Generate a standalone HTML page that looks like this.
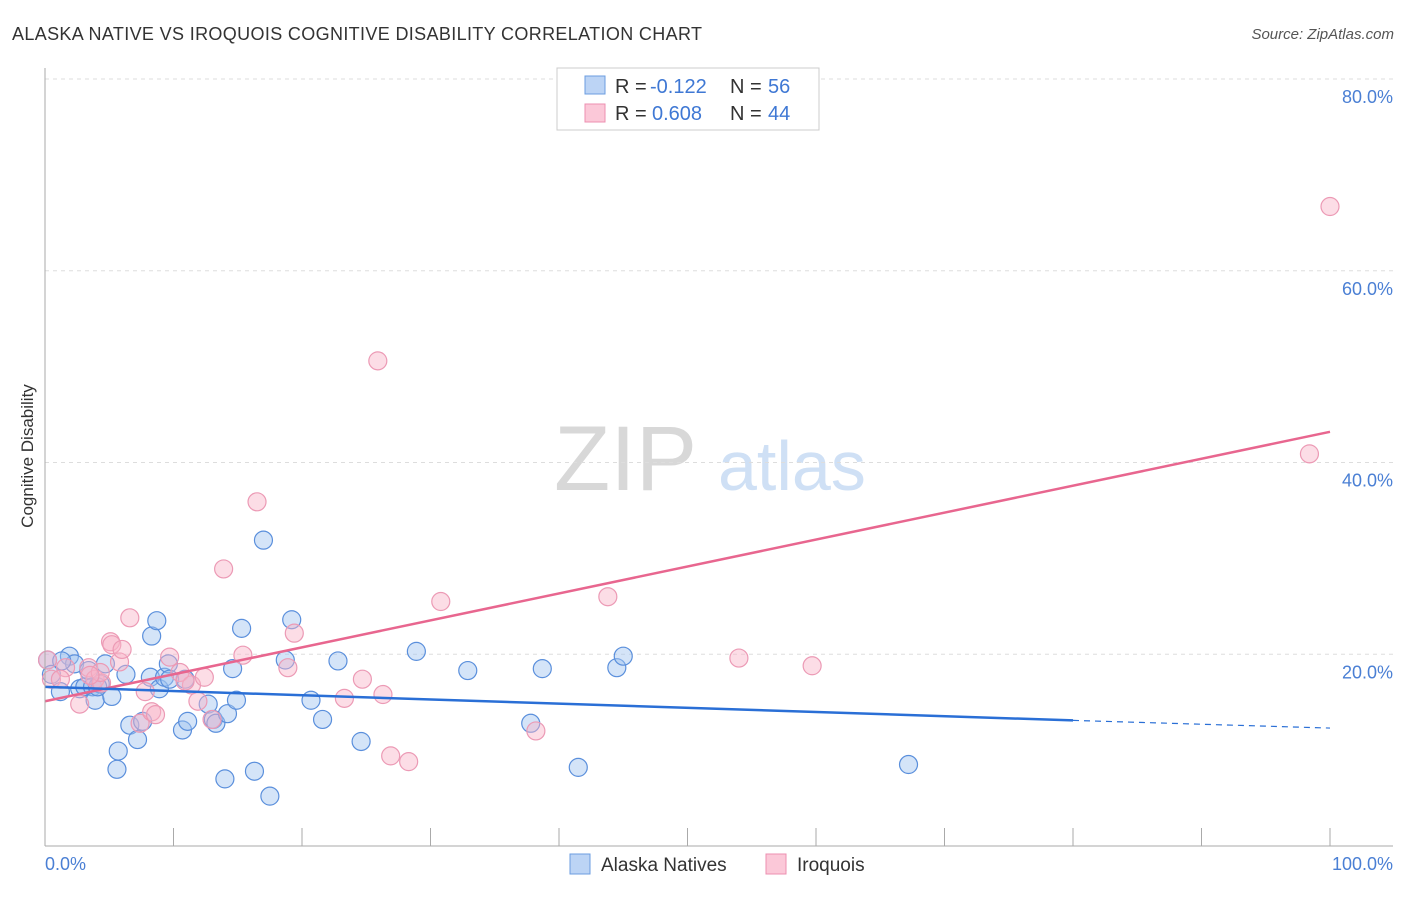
<!DOCTYPE html>
<html><head><meta charset="utf-8"><style>
body{margin:0;background:#fff;font-family:"Liberation Sans",sans-serif}
svg text{font-family:"Liberation Sans",sans-serif}
</style></head><body>
<svg id="c" width="1406" height="892" xmlns="http://www.w3.org/2000/svg">
<text x="12" y="40" font-size="18" fill="#333" textLength="690">ALASKA NATIVE VS IROQUOIS COGNITIVE DISABILITY CORRELATION CHART</text>
<text x="1394" y="39" font-size="15" fill="#555" text-anchor="end" font-style="italic">Source: ZipAtlas.com</text>
<text x="33" y="456" font-size="17" fill="#333" text-anchor="middle" transform="rotate(-90 33 456)">Cognitive Disability</text>
<text x="554" y="490" font-size="92" fill="#d8d8d8" font-family="Liberation Serif">ZIP</text>
<text x="718" y="490" font-size="70" fill="#cfe0f5">atlas</text>
<g id="grid"></g><g id="pts"></g><g id="lines"></g>
<line x1="45" y1="68" x2="45" y2="846" stroke="#aaa"/>
<line x1="45" y1="846" x2="1393" y2="846" stroke="#aaa"/>
<text x="45" y="870" font-size="18" fill="#4a7fd4">0.0%</text>
<text x="1393" y="870" font-size="18" fill="#4a7fd4" text-anchor="end">100.0%</text>
<g>
<rect x="557" y="68" width="262" height="62" fill="#fff" stroke="#ccc"/>
<rect x="585" y="76" width="20" height="18" fill="#bcd4f5" stroke="#6b9de0"/>
<rect x="585" y="104" width="20" height="18" fill="#fbc8d8" stroke="#ec8fb0"/>
<text x="615" y="93" font-size="20" fill="#333">R =</text>
<text x="650" y="93" font-size="20" fill="#3f78d4">-0.122</text>
<text x="730" y="93" font-size="20" fill="#333">N =</text>
<text x="768" y="93" font-size="20" fill="#3f78d4">56</text>
<text x="615" y="120" font-size="20" fill="#333">R =</text>
<text x="652" y="120" font-size="20" fill="#3f78d4">0.608</text>
<text x="730" y="120" font-size="20" fill="#333">N =</text>
<text x="768" y="120" font-size="20" fill="#3f78d4">44</text>
</g>
<g>
<rect x="570" y="854" width="20" height="20" fill="#bcd4f5" stroke="#6b9de0"/>
<text x="601" y="871" font-size="19" fill="#333">Alaska Natives</text>
<rect x="766" y="854" width="20" height="20" fill="#fbc8d8" stroke="#ec8fb0"/>
<text x="797" y="871" font-size="19" fill="#333">Iroquois</text>
</g>
</svg>
<script>
const yTicks=[20,40,60,80];
const blueX=[0.2,0.5,1.2,1.9,2.3,2.7,3.1,3.4,3.7,3.9,4.3,4.7,5.2,5.7,5.6,6.3,6.6,7.2,7.6,8.2,8.3,8.7,8.9,9.3,9.6,10.7,11.1,10.9,12.7,13.1,13.3,14.2,14.6,14.9,15.3,14.0,16.3,17.0,17.5,18.7,19.2,20.7,21.6,22.8,24.6,28.9,32.9,37.8,38.7,41.5,44.5,45.0,67.2,1.3,4.1,9.7];
const blueY=[19.4,17.9,16.1,19.8,19.0,16.4,16.6,18.3,16.6,15.2,16.9,19.0,15.6,9.9,8.0,17.9,12.6,11.1,13.0,17.6,21.9,23.5,16.4,17.6,19.0,12.1,13.0,17.4,14.8,13.2,12.8,13.8,18.5,15.2,22.7,7.0,7.8,31.9,5.2,19.4,23.6,15.2,13.2,19.3,10.9,20.3,18.3,12.8,18.5,8.2,18.6,19.8,8.5,19.3,16.6,17.4];
const pinkX=[0.2,0.5,1.6,2.7,3.4,3.9,4.4,5.1,5.2,5.8,6.0,6.6,7.4,7.8,8.3,8.6,9.7,10.5,11.4,11.9,12.4,13.0,13.9,15.4,16.5,18.9,19.4,23.3,24.7,25.9,26.3,26.9,28.3,30.8,38.2,43.8,54.0,59.7,98.4,100.0,1.2,4.3,3.5,10.9];
const pinkY=[19.4,17.4,18.6,14.8,18.6,17.4,17.0,21.3,21.0,19.2,20.5,23.8,12.8,16.1,14.0,13.7,19.7,18.1,16.8,15.1,17.6,13.2,28.9,19.9,35.9,18.6,22.2,15.4,17.4,50.6,15.8,9.4,8.8,25.5,12.0,26.0,19.6,18.8,40.9,66.7,17.4,18.1,17.8,17.2];
const blueLine=[[0,16.6],[80,13.1]], blueDash=[[80,13.1],[100,12.3]];
const pinkLine=[[0,15.1],[100,43.2]];
const NS='http://www.w3.org/2000/svg';
const sx=v=>45+v*12.85, sy=v=>846-v*9.5875;
function mk(t,a,p){const e=document.createElementNS(NS,t);for(const k in a)e.setAttribute(k,a[k]);p.appendChild(e);return e;}
const grid=document.getElementById('grid');
yTicks.forEach(t=>{
 const l=mk('line',{x1:45,x2:1393,y1:sy(t),y2:sy(t),stroke:'#ddd','stroke-dasharray':'4,4'},grid);
 
 
 const tx=mk('text',{x:1393,y:sy(t)+24,'font-size':18,fill:'#4a7fd4','text-anchor':'end'},grid);
 tx.textContent=t.toFixed(1)+'%';
 
 
});
for(let i=0;i<=10;i++){
 const l=mk('line',{x1:sx(i*10),x2:sx(i*10),y1:828,y2:846,stroke:'#aaa'},grid);
 
 
}
const pts=document.getElementById('pts');
blueX.forEach((x,i)=>{
 const c=mk('circle',{cx:sx(x),cy:sy(blueY[i]),r:9,fill:'rgba(160,195,240,0.45)',stroke:'#5a8fdc','stroke-width':1.2},pts);
 
 
});
pinkX.forEach((x,i)=>{
 const c=mk('circle',{cx:sx(x),cy:sy(pinkY[i]),r:9,fill:'rgba(248,180,200,0.45)',stroke:'#ec9ab5','stroke-width':1.2},pts);
 
 
});
const lines=document.getElementById('lines');
let l=mk('line',{x1:sx(pinkLine[0][0]),y1:sy(pinkLine[0][1]),x2:sx(pinkLine[1][0]),y2:sy(pinkLine[1][1]),stroke:'#e8668f','stroke-width':2.5},lines);


l=mk('line',{x1:sx(blueLine[0][0]),y1:sy(blueLine[0][1]),x2:sx(blueLine[1][0]),y2:sy(blueLine[1][1]),stroke:'#2a6fd6','stroke-width':2.5},lines);


l=mk('line',{x1:sx(blueDash[0][0]),y1:sy(blueDash[0][1]),x2:sx(blueDash[1][0]),y2:sy(blueDash[1][1]),stroke:'#2a6fd6','stroke-width':1.2,'stroke-dasharray':'6,5'},lines);


</script>
</body></html>
